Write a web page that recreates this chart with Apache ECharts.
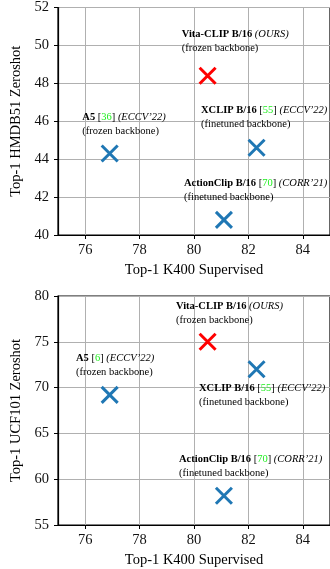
<!DOCTYPE html>
<html><head><meta charset="utf-8">
<script src="https://cdn.jsdelivr.net/npm/echarts@6/dist/echarts.min.js"></script>
<style>html,body{margin:0;padding:0;background:#fff}#c{width:330px;height:569px}</style>
</head><body><div id="c"></div>
<script>
const models = ['A5', 'Vita-CLIP B/16', 'XCLIP B/16', 'ActionClip B/16'];
const k400 = [76.9, 80.5, 82.3, 81.1];
const hmdb51 = [44.3, 48.4, 44.6, 40.8];
const ucf101 = [69.2, 75.0, 72.0, 58.2];
const isOurs = [false, true, false, false];
const xRange = [75, 85];
const hmdbRange = [40, 52];
const ucfRange = [55, 80];

const FONT = 'Liberation Serif';
const BLUE = '#1f77b4', RED = '#ff0000';
const xPath = 'path://M0,0L10,10M10,0L0,10';

function pts(ys) {
  return k400.map((x, i) => ({
    value: [x, ys[i]], name: models[i],
    itemStyle: { color: 'rgba(0,0,0,0)', borderColor: isOurs[i] ? RED : BLUE, borderWidth: 3, opacity: 1 }
  }));
}
function xAx(gi) {
  return {
    gridIndex: gi, type: 'value', min: xRange[0], max: xRange[1], splitNumber: 5,
    name: 'Top-1 K400 Supervised', nameLocation: 'middle', nameGap: 28,
    nameTextStyle: { fontFamily: FONT, fontSize: 14.5, color: '#000' },
    axisLine: { show: true, lineStyle: { color: '#000', width: 1.2 } },
    axisTick: { show: true, inside: false, length: 4, lineStyle: { color: '#000' } },
    axisLabel: { fontFamily: FONT, fontSize: 14.5, color: '#111', margin: 8, showMinLabel: false, showMaxLabel: false },
    splitLine: { show: true, lineStyle: { color: '#b0b0b0', width: 1 } }
  };
}
function yAx(gi, r, iv, name) {
  return {
    gridIndex: gi, type: 'value', min: r[0], max: r[1], interval: iv,
    name: name, nameLocation: 'middle', nameGap: 33,
    nameTextStyle: { fontFamily: FONT, fontSize: 14.5, color: '#000' },
    axisLine: { show: true, lineStyle: { color: '#000', width: 1.2 } },
    axisTick: { show: true, inside: false, length: 4, lineStyle: { color: '#000' } },
    axisLabel: { fontFamily: FONT, fontSize: 14.5, color: '#111', margin: 9 },
    splitLine: { show: true, lineStyle: { color: '#b0b0b0', width: 1 } }
  };
}
const FS = 10.5;
const rich = {
  b: { fontFamily: FONT, fontSize: FS, fontWeight: 'bold', fill: '#000', lineHeight: 14 },
  i: { fontFamily: FONT, fontSize: FS, fontStyle: 'italic', fill: '#000', lineHeight: 14 },
  n: { fontFamily: FONT, fontSize: FS, fill: '#000', lineHeight: 14 },
  g: { fontFamily: FONT, fontSize: FS, fill: '#22ee22', lineHeight: 14 }
};
function note(x, y, line1, line2) {
  return {
    type: 'text', left: x, top: y - 7, z: 100,
    style: { text: line1 + '\n{n|' + line2 + '}', rich: rich, fontFamily: FONT, fontSize: FS, fill: '#000' }
  };
}
const chart = echarts.init(document.getElementById('c'), null, { renderer: 'canvas' });
chart.setOption({
  animation: false,
  backgroundColor: '#fff',
  grid: [
    { left: 58, top: 5, width: 277, height: 230, show: true, borderColor: '#000', borderWidth: 1.2 },
    { left: 58, top: 296, width: 277, height: 230, show: true, borderColor: '#000', borderWidth: 1.2 }
  ],
  xAxis: [xAx(0), xAx(1)],
  yAxis: [yAx(0, hmdbRange, 2, 'Top-1 HMDB51 Zeroshot'), yAx(1, ucfRange, 5, 'Top-1 UCF101 Zeroshot')],
  series: [
    { type: 'scatter', xAxisIndex: 0, yAxisIndex: 0, symbol: xPath, symbolSize: 16, data: pts(hmdb51), z: 5 },
    { type: 'scatter', xAxisIndex: 1, yAxisIndex: 1, symbol: xPath, symbolSize: 16, data: pts(ucf101), z: 5 }
  ],
  graphic: [
    note(181.7, 36, '{b|Vita-CLIP B/16} {i|(OURS)}', '(frozen backbone)'),
    note(82.3, 118.3, '{b|A5} {n|[}{g|36}{n|]} {i|(ECCV\u201922)}', '(frozen backbone)'),
    note(201, 111.7, '{b|XCLIP B/16} {n|[}{g|55}{n|]} {i|(ECCV\u201922)}', '(finetuned backbone)'),
    note(184, 184.3, '{b|ActionClip B/16} {n|[}{g|70}{n|]} {i|(CORR\u201921)}', '(finetuned backbone)'),
    note(176, 307.7, '{b|Vita-CLIP B/16} {i|(OURS)}', '(frozen backbone)'),
    note(76, 360, '{b|A5} {n|[}{g|6}{n|]} {i|(ECCV\u201922)}', '(frozen backbone)'),
    note(199, 390, '{b|XCLIP B/16} {n|[}{g|55}{n|]} {i|(ECCV\u201922)}', '(finetuned backbone)'),
    note(179, 460.7, '{b|ActionClip B/16} {n|[}{g|70}{n|]} {i|(CORR\u201921)}', '(finetuned backbone)')
  ]
});
</script></body></html>
